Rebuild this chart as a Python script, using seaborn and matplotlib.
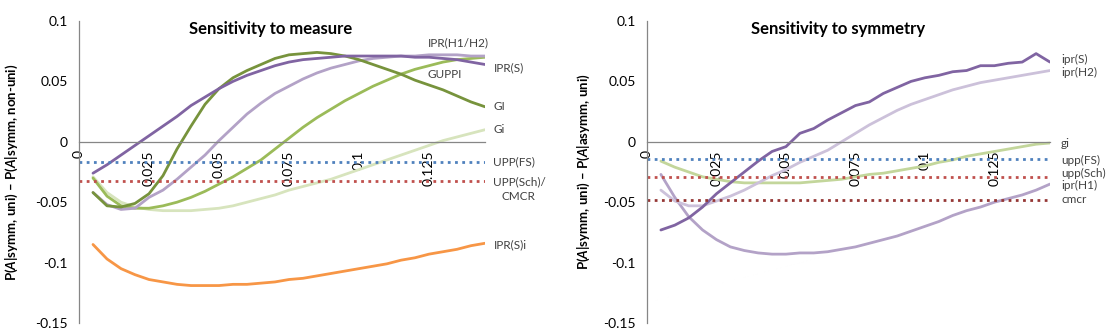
import numpy as np
import pandas as pd
import matplotlib
matplotlib.use("Agg")
import matplotlib.pyplot as plt
import seaborn as sns

# x grid
x = [0.005, 0.01, 0.015, 0.02, 0.025, 0.03, 0.035, 0.04, 0.045, 0.05,
     0.055, 0.06, 0.065, 0.07, 0.075, 0.08, 0.085, 0.09, 0.095, 0.1,
     0.105, 0.11, 0.115, 0.12, 0.125, 0.13, 0.135, 0.14, 0.145]

# Left panel: sensitivity to measure
ipr_s = [-0.026, -0.019, -0.011, -0.003, 0.005, 0.013, 0.021, 0.030, 0.037, 0.044,
         0.050, 0.055, 0.059, 0.063, 0.066, 0.068, 0.069, 0.070, 0.071, 0.071,
         0.071, 0.071, 0.071, 0.070, 0.070, 0.069, 0.068, 0.066, 0.064]
ipr_h1h2 = [-0.042, -0.052, -0.056, -0.055, -0.046, -0.040, -0.031, -0.021, -0.011, 0.001,
            0.012, 0.023, 0.032, 0.040, 0.046, 0.052, 0.057, 0.061, 0.064, 0.067,
            0.069, 0.070, 0.071, 0.071, 0.072, 0.072, 0.072, 0.071, 0.071]
gi_big = [-0.042, -0.053, -0.054, -0.051, -0.043, -0.028, -0.006, 0.013, 0.031, 0.044,
          0.053, 0.059, 0.064, 0.069, 0.072, 0.073, 0.074, 0.073, 0.071, 0.068,
          0.064, 0.060, 0.056, 0.051, 0.047, 0.043, 0.038, 0.033, 0.029]
guppi = [-0.030, -0.045, -0.053, -0.055, -0.055, -0.053, -0.050, -0.046, -0.041, -0.035,
         -0.029, -0.022, -0.015, -0.006, 0.003, 0.012, 0.020, 0.027, 0.034, 0.040,
         0.046, 0.051, 0.056, 0.060, 0.063, 0.066, 0.068, 0.069, 0.070]
gi_small = [-0.029, -0.042, -0.050, -0.054, -0.056, -0.057, -0.057, -0.057, -0.056, -0.055,
            -0.053, -0.050, -0.047, -0.044, -0.040, -0.037, -0.034, -0.031, -0.027, -0.023,
            -0.019, -0.015, -0.011, -0.007, -0.003, 0.001, 0.004, 0.007, 0.010]
ipr_si = [-0.085, -0.097, -0.105, -0.110, -0.114, -0.116, -0.118, -0.119, -0.119, -0.119,
          -0.118, -0.118, -0.117, -0.116, -0.114, -0.113, -0.111, -0.109, -0.107, -0.105,
          -0.103, -0.101, -0.098, -0.096, -0.093, -0.091, -0.089, -0.086, -0.084]
upp_fs_left = -0.0168
upp_sch_left = -0.0328

# Right panel: sensitivity to symmetry
r_ipr_s = [-0.073, -0.069, -0.063, -0.054, -0.043, -0.034, -0.025, -0.016, -0.008, -0.004,
           0.007, 0.011, 0.018, 0.024, 0.030, 0.033, 0.040, 0.045, 0.050, 0.053,
           0.055, 0.058, 0.059, 0.063, 0.063, 0.065, 0.066, 0.073, 0.066]
r_ipr_h2 = [-0.040, -0.049, -0.053, -0.053, -0.049, -0.045, -0.040, -0.034, -0.028, -0.023,
            -0.017, -0.012, -0.007, 0.000, 0.007, 0.014, 0.020, 0.026, 0.031, 0.035,
            0.039, 0.043, 0.046, 0.049, 0.051, 0.053, 0.055, 0.057, 0.059]
r_ipr_h1 = [-0.027, -0.046, -0.062, -0.073, -0.081, -0.087, -0.090, -0.092, -0.093, -0.093,
            -0.092, -0.092, -0.091, -0.089, -0.087, -0.084, -0.081, -0.078, -0.074, -0.070,
            -0.066, -0.061, -0.057, -0.054, -0.050, -0.047, -0.044, -0.040, -0.035]
r_gi = [-0.016, -0.021, -0.025, -0.029, -0.031, -0.033, -0.034, -0.034, -0.034, -0.034,
        -0.034, -0.033, -0.032, -0.031, -0.029, -0.027, -0.026, -0.024, -0.022, -0.020,
        -0.017, -0.015, -0.012, -0.010, -0.008, -0.006, -0.004, -0.002, -0.001]
upp_fs_right = -0.0143
upp_sch_right = -0.029
cmcr_right = -0.048

xticks = [0, 0.025, 0.05, 0.075, 0.1, 0.125]
xtick_labels = ["0", "0.025", "0.05", "0.075", "0.1", "0.125"]
yticks = [0.1, 0.05, 0, -0.05, -0.1, -0.15]
ytick_labels = ["0.1", "0.05", "0", "-0.05", "-0.1", "-0.15"]

sns.set_style("white")
plt.rcParams['font.family'] = ['Lato', 'DejaVu Sans']
plt.rcParams['mathtext.fontset'] = 'custom'
plt.rcParams['mathtext.bfit'] = 'Lato:italic:bold'
plt.rcParams['mathtext.rm'] = 'Lato'

TXT = '#404040'
SPINE = '#868686'
DOT = (0, (1, 1.6))

fig = plt.figure(figsize=(11.16, 3.36), dpi=100)
ax1 = fig.add_axes([79 / 1116, 13 / 336, 406 / 1116, 302 / 336])
ax2 = fig.add_axes([647 / 1116, 13 / 336, 403 / 1116, 302 / 336])


def style_axes(ax, ylabel, title, label_x):
    ax.set_xlim(0, 0.145)
    ax.set_ylim(-0.15, 0.1)
    for s in ['top', 'right']:
        ax.spines[s].set_visible(False)
    ax.spines['bottom'].set_position(('data', 0))
    ax.spines['bottom'].set_color(SPINE)
    ax.spines['left'].set_color(SPINE)
    ax.spines['bottom'].set_linewidth(0.9)
    ax.spines['left'].set_linewidth(0.9)
    ax.set_xticks(xticks)
    ax.set_xticklabels(xtick_labels, rotation=90)
    ax.set_yticks(yticks)
    ax.set_yticklabels(ytick_labels)
    ax.tick_params(axis='both', direction='out', length=4, width=0.9, color=SPINE,
                   labelsize=10, labelcolor='black', pad=2)
    ax.tick_params(axis='y', pad=4)
    ax.set_xlabel('')
    ax.set_ylabel(ylabel, fontsize=9.5, fontweight='bold', color='black')
    ax.yaxis.set_label_coords(label_x, 0.5)
    ax.text(0.473, 0.972, title, transform=ax.transAxes, ha='center', va='center',
            fontsize=12, fontweight='bold', color='black')


# ---- left panel
sns.lineplot(x=x, y=ipr_si, color='#F79646', lw=2, ax=ax1)
sns.lineplot(x=x, y=gi_small, color='#D7E4BD', lw=2, ax=ax1)
sns.lineplot(x=x, y=guppi, color='#9BBB59', lw=2, ax=ax1)
sns.lineplot(x=x, y=ipr_h1h2, color='#B3A2C7', lw=2, ax=ax1)
sns.lineplot(x=x, y=gi_big, color='#77933C', lw=2, ax=ax1)
sns.lineplot(x=x, y=ipr_s, color='#8064A2', lw=2, ax=ax1)
ax1.axhline(upp_fs_left, color='#4F81BD', ls=DOT, lw=2)
ax1.axhline(upp_sch_left, color='#C0504D', ls=DOT, lw=2)

style_axes(ax1, r"P($\mathbfit{A}$|symm, uni) – P($\mathbfit{A}$|symm, non-uni)",
           "Sensitivity to measure", -0.145)

lx = 0.148
left_labels = [
    (0.1246, 0.0818, "IPR(H1/H2)", 'left'),
    (lx, 0.061, "IPR(S)", 'left'),
    (0.1243, 0.0554, "GUPPI", 'left'),
    (lx, 0.029, "GI", 'left'),
    (lx, 0.0099, "Gi", 'left'),
    (lx, -0.0165, "UPP(FS)", 'left'),
    (lx, -0.033, "UPP(Sch)/", 'left'),
    (0.157, -0.0455, "CMCR", 'center'),
    (lx, -0.085, "IPR(S)i", 'left'),
]
for tx, ty, s, ha in left_labels:
    ax1.text(tx, ty, s, ha=ha, va='center', fontsize=8.5, color=TXT, clip_on=False)

# ---- right panel
sns.lineplot(x=x, y=r_gi, color='#C3D69B', lw=2, ax=ax2)
sns.lineplot(x=x, y=r_ipr_h1, color='#B3A2C7', lw=2, ax=ax2)
sns.lineplot(x=x, y=r_ipr_h2, color='#CCC1DA', lw=2, ax=ax2)
sns.lineplot(x=x, y=r_ipr_s, color='#8064A2', lw=2, ax=ax2)
ax2.axhline(upp_fs_right, color='#4F81BD', ls=DOT, lw=2)
ax2.axhline(upp_sch_right, color='#C0504D', ls=DOT, lw=2)
ax2.axhline(cmcr_right, color='#953735', ls=DOT, lw=2)

style_axes(ax2, r"P($\mathbfit{A}$|symm, uni) – P($\mathbfit{A}$|asymm, uni)",
           "Sensitivity to symmetry", -0.137)

rx = 0.149
right_labels = [
    (0.068, "ipr(S)"),
    (0.057, "ipr(H2)"),
    (-0.0017, "gi"),
    (-0.0157, "upp(FS)"),
    (-0.0264, "upp(Sch)"),
    (-0.0364, "ipr(H1)"),
    (-0.048, "cmcr"),
]
for ty, s in right_labels:
    ax2.text(rx, ty, s, ha='left', va='center', fontsize=8.5, color=TXT, clip_on=False)

fig.savefig("out.png", dpi=100)
